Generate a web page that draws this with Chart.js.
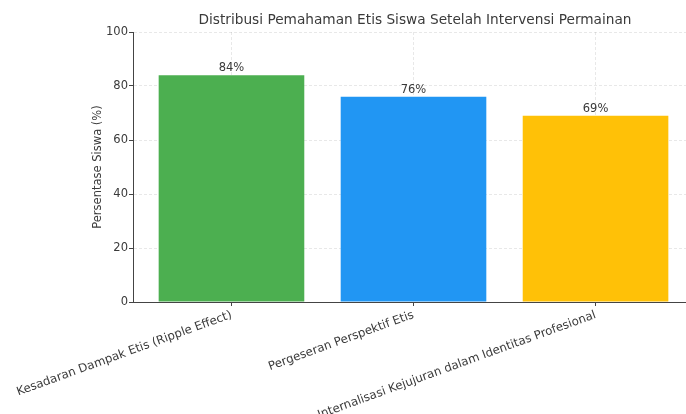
<!DOCTYPE html>
<html>
<head>
<meta charset="utf-8">
<script src="https://cdn.jsdelivr.net/npm/chart.js@4.4.1/dist/chart.umd.min.js"></script>
<style>
html,body{margin:0;padding:0;background:#fff;overflow:hidden;}
canvas{display:block;}
</style>
</head>
<body>
<canvas id="c" width="686" height="414"></canvas>
<script>
const categories = [
  "Kesadaran Dampak Etis (Ripple Effect)",
  "Pergeseran Perspektif Etis",
  "Internalisasi Kejujuran dalam Identitas Profesional"
];
const percentages = [84, 76, 69];
const barColors = ["#4CAF50", "#2196F3", "#FFC107"];
const yTicks = [0, 20, 40, 60, 80, 100];
const chartTitle = "Distribusi Pemahaman Etis Siswa Setelah Intervensi Permainan";
const yTitle = "Persentase Siswa (%)";

const FONT = "'DejaVu Sans', sans-serif";
const TXT = "#3a3a3a";

const titlePlugin = {
  id: 'titleOverArea',
  afterDraw(chart) {
    const ctx = chart.ctx;
    ctx.save();
    ctx.font = "13.7px " + FONT;
    ctx.fillStyle = TXT;
    ctx.textAlign = 'center';
    ctx.textBaseline = 'middle';
    ctx.fillText(chartTitle, 415, 20);
    ctx.restore();
  }
};

const valuePlugin = {
  id: 'valueLabels',
  afterDatasetsDraw(chart) {
    const ctx = chart.ctx;
    const meta = chart.getDatasetMeta(0);
    ctx.save();
    ctx.font = "11.5px " + FONT;
    ctx.fillStyle = TXT;
    ctx.textAlign = 'center';
    ctx.textBaseline = 'bottom';
    meta.data.forEach((bar, i) => {
      ctx.fillText(percentages[i] + "%", bar.x, bar.y - 1);
    });
    ctx.restore();
  }
};

new Chart(document.getElementById('c'), {
  type: 'bar',
  data: {
    datasets: [{
      data: percentages.map((v, i) => ({x: i, y: v})),
      backgroundColor: barColors,
      borderWidth: 0,
      categoryPercentage: 0.8,
      barPercentage: 1.0
    }]
  },
  options: {
    responsive: false,
    animation: false,
    devicePixelRatio: 1,
    layout: {padding: {top: 32, left: 0, right: 0, bottom: 0}},
    plugins: {legend: {display: false}, tooltip: {enabled: false}, title: {display: false}},
    scales: {
      x: {
        type: 'linear',
        offset: false,
        min: -0.541,
        max: 2.497,
        z: 1,
        afterBuildTicks(scale) { scale.ticks = categories.map((c, i) => ({value: i})); },
        afterFit(scale) { scale.height = 112; scale.paddingLeft = 0; scale.paddingRight = 0; },
        ticks: {
          autoSkip: false,
          minRotation: 20,
          maxRotation: 20,
          padding: 2,
          color: TXT,
          font: {family: FONT, size: 11.8},
          callback: (v) => categories[v]
        },
        grid: {
          offset: false,
          color: 'rgba(0,0,0,0.09)',
          tickColor: '#444',
          tickLength: 4,
          lineWidth: 1
        },
        border: {display: true, color: '#444', width: 1, dash: [3, 2]}
      },
      y: {
        min: 0,
        max: 100,
        z: 1,
        afterBuildTicks(scale) { scale.ticks = yTicks.map(v => ({value: v})); },
        afterFit(scale) { scale.width = 133; scale.paddingTop = 0; scale.paddingBottom = 0; },
        ticks: {
          padding: 1,
          color: TXT,
          font: {family: FONT, size: 11.5}
        },
        title: {
          display: true,
          text: yTitle,
          color: TXT,
          font: {family: FONT, size: 11.5},
          padding: {top: 91, bottom: 4}
        },
        grid: {
          color: 'rgba(0,0,0,0.09)',
          tickColor: '#444',
          tickLength: 4,
          lineWidth: 1
        },
        border: {display: true, color: '#444', width: 1, dash: [3, 2]}
      }
    }
  },
  plugins: [titlePlugin, valuePlugin]
});
</script>
</body>
</html>
